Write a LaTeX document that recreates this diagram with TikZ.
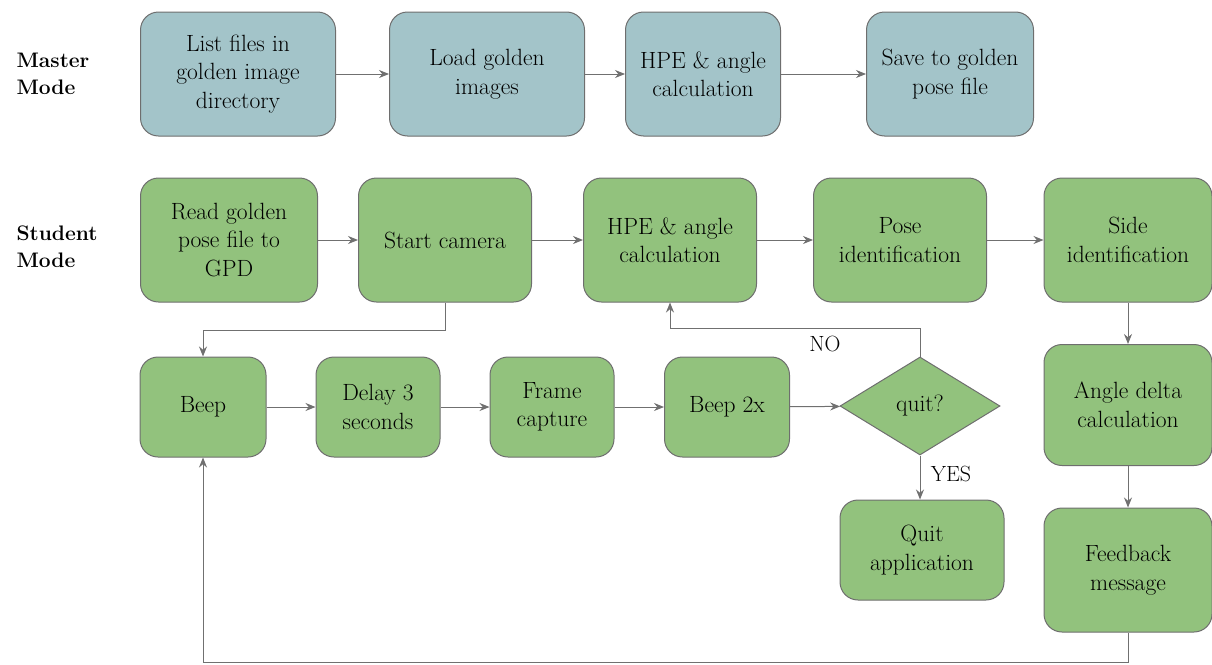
\documentclass[tikz,border=0pt]{standalone}
\usetikzlibrary{shapes.geometric,arrows.meta}
\definecolor{mastfill}{HTML}{A3C4C9}
\definecolor{studfill}{HTML}{92C27D}
\definecolor{edgegray}{HTML}{6E6E6E}
\definecolor{linegray}{HTML}{707070}
\tikzset{
  box/.style={draw=edgegray, line width=1pt, rounded corners=18pt, align=center,
    inner sep=2pt, font=\fontsize{23.5}{28.5}\selectfont},
  mbox/.style={box, fill=mastfill},
  sbox/.style={box, fill=studfill},
  decision/.style={draw=edgegray, line width=1pt, fill=studfill, shape=diamond,
    minimum width=160pt, minimum height=98pt, inner sep=0pt, aspect=1.63,
    font=\fontsize{23.5}{28.5}\selectfont},
  modelabel/.style={align=left, anchor=west, font=\fontsize{21}{27}\selectfont\bfseries},
  flow/.style={draw=linegray, line width=1pt, -{Stealth[length=10pt,width=8pt]}},
  tag/.style={font=\fontsize{22}{24}\selectfont}
}
\begin{document}
\begin{tikzpicture}[x=1pt,y=-1pt]
\useasboundingbox (0,0) rectangle (1212,664);

% mode labels
\node[modelabel] (mmode) at (13,74) {Master\\Mode};
\node[modelabel] (smode) at (13,247) {Student\\Mode};

% master mode
\node[mbox, minimum width=195pt, minimum height=124pt] (m1) at (238,74) {List files in\\golden image\\directory};
\node[mbox, minimum width=195pt, minimum height=124pt] (m2) at (487,74) {Load golden\\images};
\node[mbox, minimum width=155pt, minimum height=124pt] (m3) at (703,74) {HPE \& angle\\calculation};
\node[mbox, minimum width=167pt, minimum height=124pt] (m4) at (950,74) {Save to golden\\pose file};

\draw[flow] (m1) -- (m2);
\draw[flow] (m2) -- (m3);
\draw[flow] (m3) -- (m4);

% student mode, top row
\node[sbox, minimum width=177pt, minimum height=124pt] (s1) at (229,240) {Read golden\\pose file to\\GPD};
\node[sbox, minimum width=173pt, minimum height=124pt] (s2) at (445,240) {Start camera};
\node[sbox, minimum width=173pt, minimum height=124pt] (s3) at (670,240) {HPE \& angle\\calculation};
\node[sbox, minimum width=173pt, minimum height=124pt] (s4) at (900,240) {Pose\\identification};
\node[sbox, minimum width=168pt, minimum height=124pt] (s5) at (1128,240) {Side\\identification};

% student mode, capture loop
\node[sbox, minimum width=126pt, minimum height=100pt] (b1) at (203,407) {Beep};
\node[sbox, minimum width=124pt, minimum height=100pt] (b2) at (378,407) {Delay 3\\seconds};
\node[sbox, minimum width=124pt, minimum height=100pt] (b3) at (552,407) {Frame\\capture};
\node[sbox, minimum width=125pt, minimum height=100pt] (b4) at (727,407) {Beep 2x};
\node[decision] (q) at (920,406) {quit?};
\node[sbox, minimum width=164pt, minimum height=100pt] (qa) at (922,550) {Quit\\application};

% student mode, right column
\node[sbox, minimum width=168pt, minimum height=121pt] (r1) at (1128,405) {Angle delta\\calculation};
\node[sbox, minimum width=168pt, minimum height=124pt] (r2) at (1128,570) {Feedback\\message};

% connectors
\draw[flow] (s1) -- (s2);
\draw[flow] (s2) -- (s3);
\draw[flow] (s3) -- (s4);
\draw[flow] (s4) -- (s5);
\draw[flow] (s2.south) -- ++(0,28) -| (b1.north);
\draw[flow] (b1) -- (b2);
\draw[flow] (b2) -- (b3);
\draw[flow] (b3) -- (b4);
\draw[flow] (b4) -- (q);
\draw[flow] (q.north) -- ++(0,-28) -| (s3.south);
\node[tag] (no) at (825,344) {NO};
\draw[flow] (q.south) -- (q.south |- qa.north);
\node[tag] (yes) at (951,474) {YES};
\draw[flow] (s5) -- (r1);
\draw[flow] (r1) -- (r2);
\draw[flow] (r2.south) -- ++(0,30) -| (b1.south);
\end{tikzpicture}
\end{document}
